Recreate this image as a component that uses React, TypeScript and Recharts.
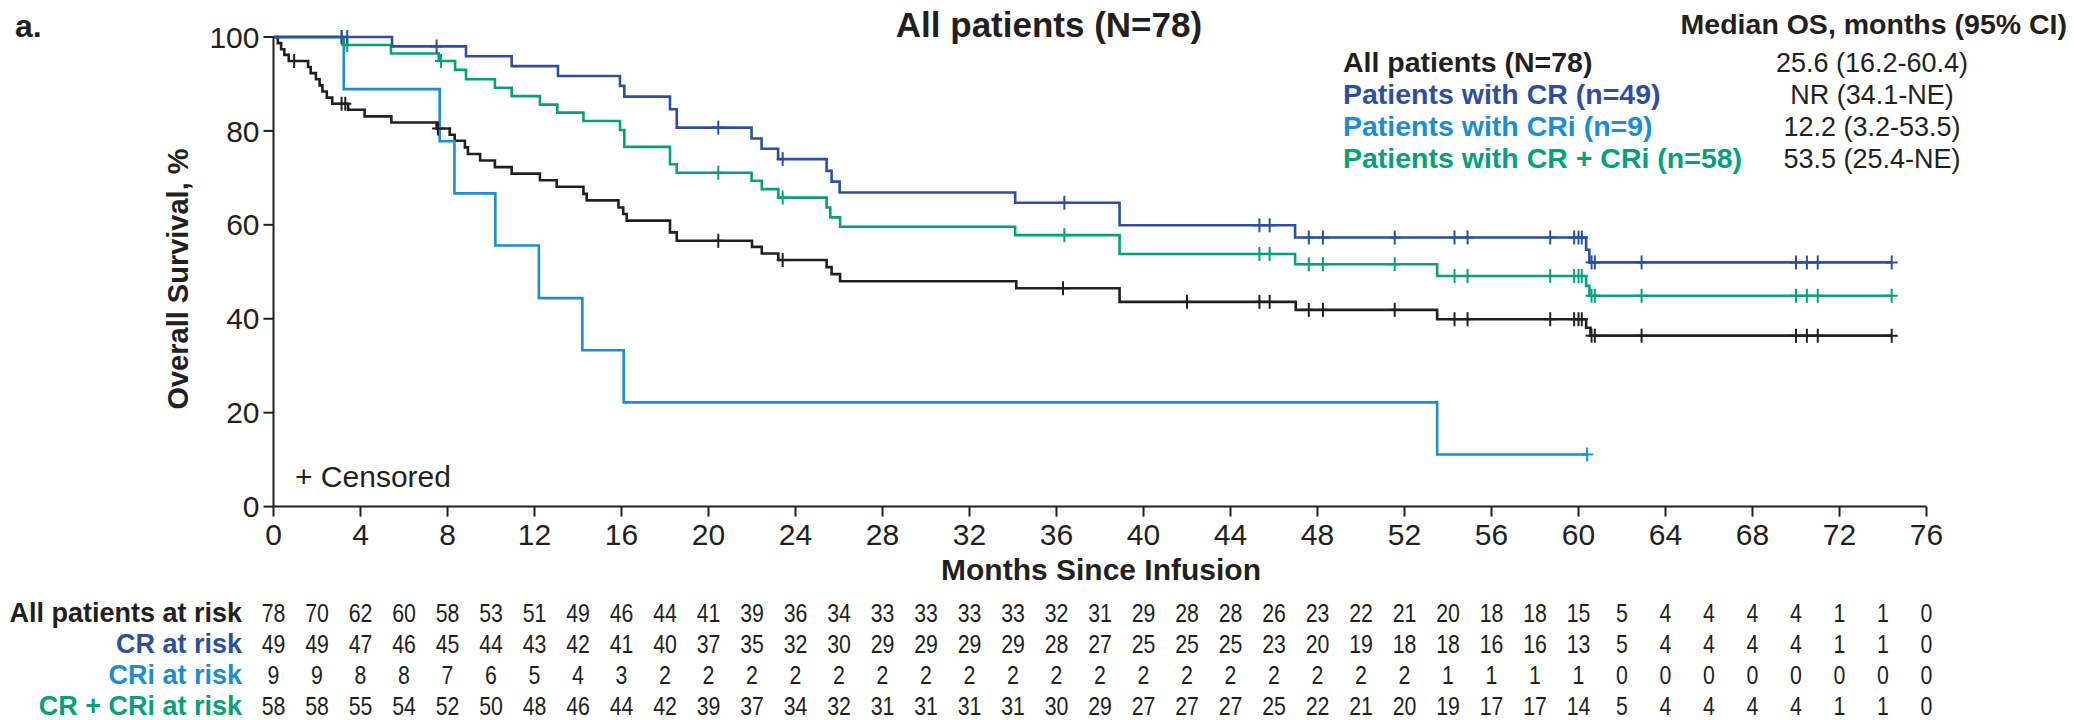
import { ComposedChart, Line, Scatter, XAxis, YAxis } from "recharts"

const xTicks = [0, 4, 8, 12, 16, 20, 24, 28, 32, 36, 40, 44, 48, 52, 56, 60, 64, 68, 72, 76]
const yTicks = [0, 20, 40, 60, 80, 100]

// Kaplan-Meier steps, [month, overall survival %]
const allSteps = [
  [0, 100], [0.2, 98.7], [0.35, 97.4], [0.5, 96.2], [0.7, 94.9], [1.59, 93.6], [1.71, 92.3], [1.95, 91.0],
  [2.12, 89.7], [2.25, 88.4], [2.45, 87.1], [2.7, 85.8], [3.43, 84.5], [4.19, 83.1], [5.42, 81.8], [7.5, 80.5],
  [8.1, 79.2], [8.33, 77.9], [8.8, 76.5], [8.94, 75.1], [9.5, 73.7], [10.18, 72.3], [10.95, 70.9], [12.25, 69.5],
  [13.02, 68.1], [14.25, 66.6], [14.4, 65.2], [15.86, 63.7], [16.08, 62.3], [16.24, 60.9], [18.23, 58.4],
  [18.54, 56.6], [22.0, 55.3], [22.45, 53.9], [23.21, 52.5], [25.43, 51.0], [25.66, 49.5], [26.05, 48.0],
  [34.15, 46.5], [38.9, 43.6], [47.0, 41.9], [53.5, 39.9], [60.35, 38.1], [60.55, 36.4], [74.4, 36.4],
]
const crSteps = [
  [0, 100], [5.45, 98.0], [8.85, 95.9], [10.95, 93.8], [13.08, 91.7], [15.93, 89.6], [16.13, 87.3],
  [18.23, 84.6], [18.54, 80.7], [21.98, 78.4], [22.44, 76.2], [23.2, 74.0], [25.43, 71.5], [25.66, 69.2],
  [26.03, 66.9], [34.1, 64.7], [38.9, 59.9], [46.97, 57.3], [60.35, 54.7], [60.5, 52.0], [74.4, 52.0],
]
const criSteps = [
  [0, 100], [3.23, 88.9], [7.64, 77.8], [8.32, 66.7], [10.2, 55.6], [12.2, 44.4], [14.2, 33.3],
  [16.1, 22.2], [53.5, 11.1], [60.4, 11.1],
]
const crCriSteps = [
  [0, 100], [3.23, 98.3], [5.4, 96.5], [7.6, 94.9], [8.35, 93.0], [8.85, 91.0], [10.18, 89.2],
  [10.95, 87.4], [12.25, 85.6], [13.05, 83.9], [14.25, 82.1], [15.93, 80.2], [16.13, 76.6], [18.23, 72.9],
  [18.54, 71.1], [21.98, 69.4], [22.45, 67.6], [23.21, 65.8], [25.43, 63.7], [25.6, 61.6], [26.05, 59.6],
  [34.1, 57.8], [38.9, 53.8], [46.97, 51.6], [53.5, 49.1], [60.35, 47.0], [60.5, 44.9], [74.4, 44.9],
]

// censored times, months
const allCensor = [0.95, 3.13, 3.3, 7.56, 20.45, 23.41, 36.3, 42.0, 45.33, 45.8, 47.6, 48.25, 51.55, 54.3, 54.9, 58.7, 59.8, 60.0, 60.15, 60.6, 60.75, 62.9, 70.0, 70.5, 71.0, 74.4]
const crCensor = [3.13, 3.39, 7.5, 20.45, 23.41, 36.36, 45.33, 45.8, 47.6, 48.25, 51.55, 54.3, 54.9, 58.7, 59.8, 60.0, 60.15, 60.6, 60.75, 62.9, 70.0, 70.5, 71.0, 74.4]
const criCensor = [60.4]
const crCriCensor = [3.13, 3.39, 7.7, 20.45, 23.41, 36.36, 45.33, 45.8, 47.6, 48.25, 51.55, 54.3, 54.9, 58.7, 59.8, 60.0, 60.15, 60.6, 60.75, 62.9, 70.0, 70.5, 71.0, 74.4]

// numbers at risk
const riskMonths = [0, 2, 4, 6, 8, 10, 12, 14, 16, 18, 20, 22, 24, 26, 28, 30, 32, 34, 36, 38, 40, 42, 44, 46, 48, 50, 52, 54, 56, 58, 60, 62, 64, 66, 68, 70, 72, 74, 76]
const allRisk = [78, 70, 62, 60, 58, 53, 51, 49, 46, 44, 41, 39, 36, 34, 33, 33, 33, 33, 32, 31, 29, 28, 28, 26, 23, 22, 21, 20, 18, 18, 15, 5, 4, 4, 4, 4, 1, 1, 0]
const crRisk = [49, 49, 47, 46, 45, 44, 43, 42, 41, 40, 37, 35, 32, 30, 29, 29, 29, 29, 28, 27, 25, 25, 25, 23, 20, 19, 18, 18, 16, 16, 13, 5, 4, 4, 4, 4, 1, 1, 0]
const criRisk = [9, 9, 8, 8, 7, 6, 5, 4, 3, 2, 2, 2, 2, 2, 2, 2, 2, 2, 2, 2, 2, 2, 2, 2, 2, 2, 2, 1, 1, 1, 1, 0, 0, 0, 0, 0, 0, 0, 0]
const crCriRisk = [58, 58, 55, 54, 52, 50, 48, 46, 44, 42, 39, 37, 34, 32, 31, 31, 31, 31, 30, 29, 27, 27, 27, 25, 22, 21, 20, 19, 17, 17, 14, 5, 4, 4, 4, 4, 1, 1, 0]

const medianLabels = ["All patients (N=78)", "Patients with CR (n=49)", "Patients with CRi (n=9)", "Patients with CR + CRi (n=58)"]
const medianValues = ["25.6 (16.2-60.4)", "NR (34.1-NE)", "12.2 (3.2-53.5)", "53.5 (25.4-NE)"]
const riskLabels = ["All patients at risk", "CR at risk", "CRi at risk", "CR + CRi at risk"]

const INK = "#231f20"
const CR = "#2e4f9f"
const CRI = "#1c8dd3"
const GREEN = "#07a07b"
const FONT = "'Liberation Sans', Arial, Helvetica, sans-serif"

const W = 2074
const H = 720
const PLOT_LEFT = 273.5
const PLOT_RIGHT = 1926.5
const PLOT_TOP = 37
const PLOT_BOTTOM = 506.6

const toPoints = (steps: number[][]) => steps.map(([t, s]) => ({ t, s }))
const levelAt = (steps: number[][], t: number) => {
  let s = 100
  for (const p of steps) if (p[0] <= t) s = p[1]
  return s
}
const censorPoints = (times: number[], steps: number[][]) => times.map((t) => ({ t, s: levelAt(steps, t) }))

const cross = (color: string) => (props: any) => {
  const { cx, cy } = props
  return (
    <g stroke={color} strokeWidth={2}>
      <line x1={cx} y1={cy - 7} x2={cx} y2={cy + 7} />
      <line x1={cx - 6} y1={cy} x2={cx + 6} y2={cy} />
    </g>
  )
}

const monthX = (m: number) => PLOT_LEFT + (m / 76) * (PLOT_RIGHT - PLOT_LEFT)

const series = [
  { key: "all", steps: allSteps, censor: allCensor, color: INK },
  { key: "cri", steps: criSteps, censor: criCensor, color: CRI },
  { key: "crcri", steps: crCriSteps, censor: crCriCensor, color: GREEN },
  { key: "cr", steps: crSteps, censor: crCensor, color: CR },
]

export default function App() {
  const riskRows = [allRisk, crRisk, criRisk, crCriRisk]
  const rowColors = [INK, CR, CRI, GREEN]
  const legendY = [72, 104, 136, 168]
  const riskY = [622, 653, 684, 715]

  return (
    <div style={{ position: "absolute", left: 0, top: 0, width: W, height: H, background: "#fff" }}>
      <ComposedChart
        width={W}
        height={H}
        margin={{ top: PLOT_TOP, right: W - PLOT_RIGHT, left: PLOT_LEFT - 100, bottom: H - PLOT_BOTTOM - 50 }}
      >
        <XAxis
          dataKey="t"
          type="number"
          domain={[0, 76]}
          ticks={xTicks}
          allowDataOverflow
          height={50}
          tickSize={10}
          tickMargin={7}
          stroke={INK}
          strokeWidth={2}
          tick={{ fill: INK, fontSize: 30, fontFamily: FONT }}
        />
        <YAxis
          type="number"
          domain={[0, 100]}
          ticks={yTicks}
          width={100}
          tickSize={10}
          tickMargin={4}
          stroke={INK}
          strokeWidth={2}
          tick={{ fill: INK, fontSize: 30, fontFamily: FONT }}
        />
        {series.map((s) => (
          <Line
            key={s.key}
            data={toPoints(s.steps)}
            dataKey="s"
            type="stepAfter"
            stroke={s.color}
            strokeWidth={2.6}
            dot={false}
            activeDot={false}
            isAnimationActive={false}
          />
        ))}
        {series.map((s) => (
          <Scatter
            key={s.key + "-c"}
            data={censorPoints(s.censor, s.steps)}
            dataKey="s"
            shape={cross(s.color)}
            isAnimationActive={false}
          />
        ))}
      </ComposedChart>

      <svg width={W} height={H} style={{ position: "absolute", left: 0, top: 0, pointerEvents: "none" }} fontFamily={FONT}>
        <text x={15} y={37} fontSize={32} fontWeight="bold" fill={INK}>a.</text>
        <text x={1049} y={37} fontSize={35} fontWeight="bold" fill={INK} textAnchor="middle">All patients (N=78)</text>

        <text x={2067} y={34} fontSize={28.5} fontWeight="bold" fill={INK} textAnchor="end">Median OS, months (95% CI)</text>
        {medianLabels.map((l, i) => (
          <text key={l} x={1343} y={legendY[i]} fontSize={28.5} fontWeight="bold" fill={rowColors[i]}>{l}</text>
        ))}
        {medianValues.map((v, i) => (
          <text key={v} x={1872} y={legendY[i]} fontSize={27} fill={INK} textAnchor="middle">{v}</text>
        ))}

        <text x={295} y={487} fontSize={30} fill={INK}>+ Censored</text>

        <text transform="translate(188, 279) rotate(-90)" fontSize={29} fontWeight="bold" fill={INK} textAnchor="middle">
          Overall Survival, %
        </text>
        <text x={1101} y={580} fontSize={30} fontWeight="bold" fill={INK} textAnchor="middle">Months Since Infusion</text>

        {riskLabels.map((l, i) => (
          <text key={l} x={242} y={riskY[i]} fontSize={27} fontWeight="bold" fill={rowColors[i]} textAnchor="end">{l}</text>
        ))}
        {riskRows.map((row, i) =>
          row.map((n, j) => (
            <text
              key={i + "-" + j}
              transform={`translate(${monthX(riskMonths[j])}, ${riskY[i]}) scale(0.82, 1)`}
              fontSize={26}
              fill={INK}
              textAnchor="middle"
            >
              {n}
            </text>
          ))
        )}
      </svg>
    </div>
  )
}
